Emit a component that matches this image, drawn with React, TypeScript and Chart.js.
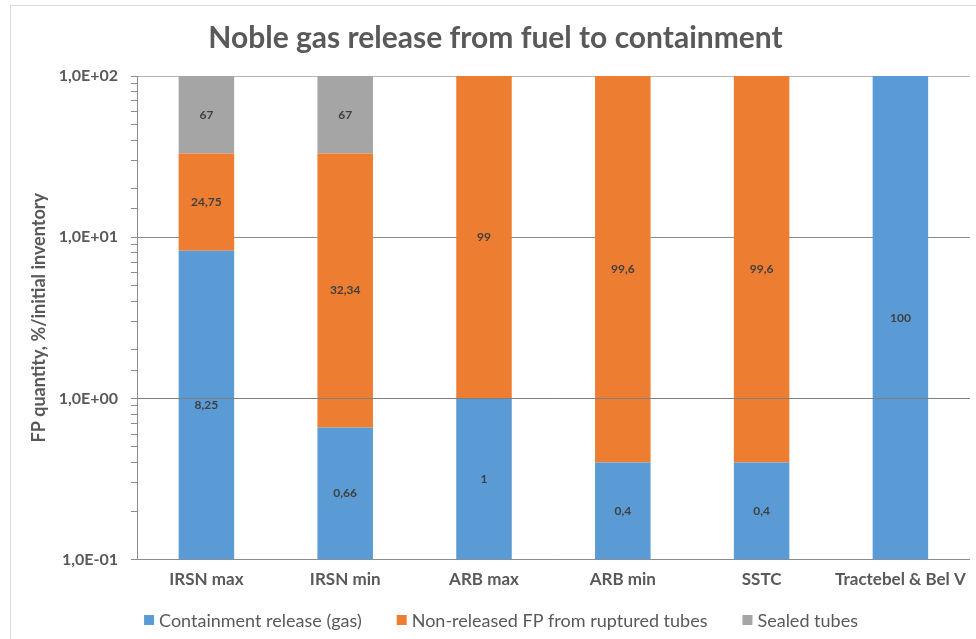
import React, { useEffect, useRef } from 'react';
import { Chart, registerables } from 'chart.js';

Chart.register(...registerables);

const categories = ['IRSN max', 'IRSN min', 'ARB max', 'ARB min', 'SSTC', 'Tractebel & Bel V'];
const containmentRelease: (number | null)[] = [8.25, 0.66, 1, 0.4, 0.4, 100];
const nonReleasedFP: (number | null)[] = [24.75, 32.34, 99, 99.6, 99.6, null];
const sealedTubes: (number | null)[] = [67, 67, null, null, null, null];
const seriesNames = ['Containment release (gas)', 'Non-released FP from ruptured tubes', 'Sealed tubes'];
const seriesColors = ['#5B9BD5', '#ED7D31', '#A5A5A5'];
const yMin = 0.1;
const yMax = 100;
const chartTitle = 'Noble gas release from fuel to containment';
const yAxisTitle = 'FP quantity, %/initial inventory';

const FONT = 'Lato, "Open Sans", sans-serif';
const TEXT = '#595959';

const isDecade = (v: number) => {
  const l = Math.log10(v);
  return Math.abs(l - Math.round(l)) < 1e-6;
};
const fmtSci = (v: number) => {
  const e = Math.round(Math.log10(v));
  const m = v / Math.pow(10, e);
  return m.toFixed(1).replace('.', ',') + 'E' + (e < 0 ? '-' : '+') + String(Math.abs(e)).padStart(2, '0');
};

const overlayPlugin = {
  id: 'overlay',
  beforeDraw(chart: any) {
    const { ctx } = chart;
    ctx.save();
    ctx.strokeStyle = '#D9D9D9';
    ctx.lineWidth = 1;
    ctx.strokeRect(10.5, 5.5, 1200, 900);
    ctx.restore();
  },
  afterDatasetsDraw(chart: any) {
    const { ctx, chartArea } = chart;
    const yScale = chart.scales.y;
    const py = Math.round(yScale.getPixelForValue(1)) + 0.5;
    ctx.save();
    ctx.strokeStyle = '#7F7F7F';
    ctx.lineWidth = 1;
    ctx.beginPath();
    ctx.moveTo(chartArea.left, py);
    ctx.lineTo(chartArea.right, py);
    ctx.stroke();

    ctx.font = `bold 12px ${FONT}`;
    ctx.fillStyle = '#404040';
    ctx.textAlign = 'center';
    ctx.textBaseline = 'middle';
    chart.data.datasets.forEach((ds: any, i: number) => {
      const meta = chart.getDatasetMeta(i);
      meta.data.forEach((bar: any, j: number) => {
        const v = ds.data[j];
        if (v == null) return;
        const p = bar.getProps(['x', 'y', 'base'], true);
        ctx.fillText(String(v).replace('.', ','), p.x, (p.y + p.base) / 2);
      });
    });
    ctx.restore();
  },
  afterDraw(chart: any) {
    const { ctx } = chart;
    ctx.save();
    ctx.font = `18px ${FONT}`;
    ctx.textBaseline = 'middle';
    ctx.textAlign = 'left';
    const box = 10;
    const gap = 5;
    const between = 35;
    const items = chart.data.datasets.map((ds: any) => ({ label: ds.label, color: ds.backgroundColor }));
    const widths = items.map((it: any) => box + gap + ctx.measureText(it.label).width);
    const total = widths.reduce((a: number, b: number) => a + b, 0) + between * (items.length - 1);
    let x = 501 - total / 2;
    const yc = 620;
    items.forEach((it: any, k: number) => {
      ctx.fillStyle = it.color;
      ctx.fillRect(x, yc - 5, box, box);
      ctx.fillStyle = TEXT;
      ctx.fillText(it.label, x + box + gap, yc + 1);
      x += widths[k] + between;
    });
    ctx.restore();
  },
};

export default function App() {
  const ref = useRef<HTMLCanvasElement>(null);

  useEffect(() => {
    if (!ref.current) return;
    const seriesData = [containmentRelease, nonReleasedFP, sealedTubes];
    const chart = new Chart(ref.current, {
      type: 'bar',
      data: {
        labels: categories,
        datasets: seriesData.map((d, i) => ({
          label: seriesNames[i],
          data: d,
          backgroundColor: seriesColors[i],
          borderWidth: 0,
          barPercentage: 0.4,
          categoryPercentage: 1,
        })),
      },
      options: {
        responsive: false,
        animation: false,
        layout: { padding: { left: 18, right: 3, top: 0, bottom: 39 } },
        plugins: {
          legend: { display: false },
          tooltip: { enabled: false },
          title: {
            display: true,
            text: chartTitle,
            color: TEXT,
            font: { family: FONT, size: 30, weight: 'bold' },
            padding: { top: 20, bottom: 20 },
          },
        },
        scales: {
          x: {
            stacked: true,
            grid: { display: false, drawTicks: false },
            border: { display: true, color: '#8C8C8C' },
            ticks: {
              color: TEXT,
              font: { family: FONT, size: 17, weight: 'bold' },
              padding: 10,
              maxRotation: 0,
              autoSkip: false,
            },
          },
          y: {
            type: 'logarithmic',
            stacked: true,
            min: yMin,
            max: yMax,
            afterFit: (s: any) => {
              s.width = 119;
            },
            grid: {
              color: (c: any) => {
                const v = c.tick && c.tick.value;
                if (v == null || !isDecade(v)) return 'rgba(0,0,0,0)';
                return v >= yMax ? '#B4B4B4' : '#8C8C8C';
              },
              tickColor: '#8C8C8C',
              tickLength: 6,
              lineWidth: 1,
            },
            border: { display: true, color: '#8C8C8C' },
            ticks: {
              autoSkip: false,
              callback: (v: any) => (isDecade(Number(v)) ? fmtSci(Number(v)) : ''),
              color: TEXT,
              font: { family: FONT, size: 16, weight: 'bold' },
              padding: 13,
            },
            title: {
              display: true,
              text: yAxisTitle,
              color: TEXT,
              font: { family: FONT, size: 18, weight: 'bold' },
              padding: { top: 10, bottom: 0 },
            },
          },
        },
      },
      plugins: [overlayPlugin],
    } as any);
    return () => chart.destroy();
  }, []);

  return (
    <div style={{ position: 'absolute', left: 0, top: 0, width: 976, height: 639, background: '#fff' }}>
      <canvas ref={ref} width={976} height={639} />
    </div>
  );
}
